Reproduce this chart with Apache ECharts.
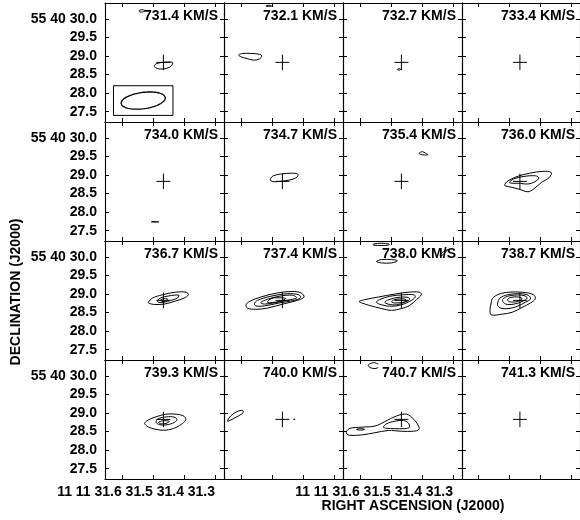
<!DOCTYPE html>
<html>
<head>
<meta charset="utf-8">
<script src="https://cdn.jsdelivr.net/npm/echarts@6/dist/echarts.min.js"></script>
<style>
  html, body { margin: 0; padding: 0; background: #fff; }
  #chart { width: 580px; height: 520px; }
</style>
</head>
<body>
<div id="chart"></div>
<script>
// Channel velocities (km/s), panels read left-to-right, top-to-bottom
const velocities = ['731.4', '732.1', '732.7', '733.4',
                    '734.0', '734.7', '735.4', '736.0',
                    '736.7', '737.4', '738.0', '738.7',
                    '739.3', '740.0', '740.7', '741.3'];

// Map window: RA seconds of 11h11m, Dec arcsec of +55d40m
const raRange = [31.271, 31.654];
const decRange = [27.222, 30.431];
const raTicks = [31.3, 31.4, 31.5, 31.6];
const decTicks = [27.5, 28.0, 28.5, 29.0, 29.5, 30.0];

// Reference position marked with a cross in each channel
const refPos = [31.466, 28.83];
const crossHalf = 0.19;           // arcsec

// Restoring beam (arcsec, degrees) and its frame
const beam = { ra: 31.531, dec: 27.80, major: 1.21, minor: 0.44, pa: 97.6 };
const beamBox = [0.81, 0.40];     // half width, half height (arcsec)

// Contour rings per channel: [east offset, north offset] in arcsec from refPos
const ch731_4 = [
  [[0.25,-0.09],[0.18,-0.03],[0,0],[-0.25,0],[-0.22,-0.09],[-0.09,-0.16],[0.09,-0.18],[0.22,-0.14]],
  [[0.66,1.40],[0.56,1.42],[0.50,1.39],[0.56,1.36],[0.64,1.36]]
];
const ch732_1 = [
  [[1.19,0.20],[1.08,0.24],[0.86,0.24],[0.63,0.22],[0.56,0.17],[0.63,0.09],[0.79,0.06],[0.99,0.11],[1.13,0.15]],
  [[0.45,1.52],[0.37,1.54],[0.29,1.52],[0.37,1.51]]
];
const ch732_7 = [
  [[0.11,-0.19],[0.06,-0.17],[0.02,-0.19],[0.06,-0.21]]
];
const ch733_4 = [];
const ch734_0 = [
  [[0.33,-1.09],[0.22,-1.08],[0.12,-1.09],[0.22,-1.10]]
];
const ch734_7 = [
  [[0.32,0.08],[0.25,0.15],[0.03,0.20],[-0.24,0.22],[-0.41,0.20],[-0.42,0.14],[-0.29,0.06],[-0.02,0.01],[0.21,-0.01],[0.32,0.02]]
];
const ch735_4 = [
  [[-0.48,0.76],[-0.57,0.80],[-0.66,0.76],[-0.72,0.72],[-0.63,0.71],[-0.52,0.73]]
];
const ch736_0 = [
  [[0.41,-0.07],[0.32,0.02],[0.05,0.14],[-0.27,0.22],[-0.63,0.27],[-0.86,0.24],[-0.81,0.11],[-0.59,-0.03],[-0.36,-0.22],[-0.22,-0.28],[0,-0.22],[0.22,-0.16],[0.41,-0.12]],
  [[0.29,-0.03],[0.18,0.06],[-0.09,0.13],[-0.43,0.15],[-0.52,0.09],[-0.41,-0.01],[-0.22,-0.07],[0.05,-0.05],[0.22,-0.05]]
];
const ch736_7 = [
  [[0.41,-0.05],[0.30,0.06],[0.03,0.15],[-0.33,0.22],[-0.62,0.22],[-0.68,0.15],[-0.56,0.06],[-0.29,-0.03],[-0.02,-0.10],[0.25,-0.11],[0.39,-0.08]],
  [[0.16,0],[0.07,0.07],[-0.15,0.12],[-0.42,0.14],[-0.38,0.06],[-0.20,0],[-0.02,-0.05],[0.14,-0.05]],
  [[0.08,0.01],[-0.03,0.05],[-0.11,0.04],[-0.03,-0.03],[0.05,-0.02]]
];
const ch737_4 = [
  [[0.99,-0.12],[0.90,-0.03],[0.59,0.09],[0.14,0.20],[-0.27,0.24],[-0.51,0.20],[-0.59,0.09],[-0.41,0],[-0.05,-0.09],[0.41,-0.21],[0.72,-0.24],[0.95,-0.21]],
  [[0.76,-0.09],[0.68,0],[0.32,0.11],[-0.14,0.18],[-0.45,0.15],[-0.49,0.07],[-0.32,0],[0.09,-0.07],[0.49,-0.15],[0.72,-0.15]],
  [[0.59,-0.06],[0.41,0.03],[0.09,0.11],[-0.27,0.14],[-0.39,0.07],[-0.22,0.02],[0.14,-0.05],[0.49,-0.10]],
  [[0.41,-0.05],[0.30,0.05],[0.06,0.07],[-0.09,0.05],[0.05,-0.02],[0.27,-0.06]]
];
const ch738_0 = [
  [[1.15,-0.03],[0.99,0.02],[0.63,0.09],[0.18,0.17],[-0.18,0.22],[-0.49,0.22],[-0.54,0.15],[-0.41,0.02],[-0.22,-0.14],[0,-0.22],[0.27,-0.27],[0.54,-0.22],[0.86,-0.14],[1.08,-0.07]],
  [[0.68,-0.05],[0.59,0.02],[0.32,0.11],[-0.05,0.15],[-0.34,0.15],[-0.38,0.09],[-0.22,-0.03],[0,-0.12],[0.27,-0.16],[0.54,-0.12]],
  [[0.45,-0.05],[0.34,0.02],[0.09,0.08],[-0.18,0.08],[-0.22,0.02],[-0.09,-0.05],[0.14,-0.12],[0.36,-0.10]],
  [[0.27,-0.04],[0.18,0.02],[-0.05,0.04],[-0.14,0],[-0.05,-0.05],[0.18,-0.07]],
  [[0.68,1.05],[0.54,1.10],[0.27,1.10],[0.11,1.07],[0.27,1.01],[0.54,1.01]],
  [[0.76,1.52],[0.54,1.54],[0.34,1.52],[0.35,1.49],[0.54,1.48],[0.76,1.49]],
  [[-1.05,1.22],[-1.14,1.31],[-1.26,1.37],[-1.19,1.29],[-1.10,1.21]]
];
const ch738_7 = [
  [[0.79,-0.07],[0.75,0.06],[0.57,0.17],[0.30,0.22],[-0.06,0.22],[-0.38,0.15],[-0.42,0.04],[-0.29,-0.07],[-0.06,-0.19],[0.21,-0.32],[0.48,-0.37],[0.79,-0.39],[0.82,-0.25]],
  [[0.61,-0.07],[0.55,0.06],[0.34,0.15],[-0.02,0.18],[-0.24,0.13],[-0.29,0.04],[-0.15,-0.05],[0.07,-0.16],[0.30,-0.22],[0.52,-0.21],[0.61,-0.14]],
  [[0.48,0],[0.39,0.09],[0.16,0.14],[-0.11,0.13],[-0.20,0.06],[-0.06,-0.03],[0.16,-0.10],[0.39,-0.10]],
  [[0.34,0.02],[0.25,0.08],[0.03,0.09],[-0.06,0.04],[0.07,-0.03],[0.28,-0.04]]
];
const ch739_3 = [
  [[0.51,-0.11],[0.42,-0.02],[0.20,0.07],[-0.07,0.14],[-0.34,0.14],[-0.55,0.09],[-0.61,0],[-0.52,-0.11],[-0.34,-0.22],[-0.07,-0.29],[0.20,-0.27],[0.42,-0.20]],
  [[0.20,-0.08],[0.15,0.01],[-0.03,0.06],[-0.25,0.07],[-0.37,0.01],[-0.30,-0.08],[-0.07,-0.15],[0.11,-0.14]],
  [[0.13,-0.08],[0.02,-0.04],[-0.16,-0.05],[-0.07,-0.11],[0.06,-0.12]]
];
const ch740_0 = [
  [[1.49,-0.02],[1.41,0.09],[1.24,0.21],[1.08,0.24],[1.07,0.18],[1.24,0.07],[1.41,-0.02],[1.49,-0.05]],
  [[-0.31,0.01],[-0.33,0.01],[-0.33,-0.01],[-0.31,-0.01]]
];
const ch740_7 = [
  [[1.49,-0.32],[1.40,-0.24],[1.08,-0.21],[0.72,-0.18],[0.45,-0.06],[0.14,0.09],[-0.14,0.14],[-0.34,0],[-0.45,-0.15],[-0.48,-0.27],[-0.32,-0.32],[0,-0.32],[0.36,-0.30],[0.72,-0.36],[1.08,-0.42],[1.40,-0.43],[1.49,-0.39]],
  [[0.49,-0.21],[0.41,-0.12],[0.18,-0.05],[-0.05,-0.03],[-0.18,-0.09],[-0.22,-0.21],[-0.09,-0.25],[0.18,-0.25],[0.41,-0.24]],
  [[1.22,-0.27],[1.11,-0.25],[1.00,-0.27],[1.11,-0.29]]
];
const ch741_3 = [];

// Contour fragments that run off and stay open (per panel index)
const openArcs = {
  14: [[[0.63,1.49],[0.76,1.53],[0.90,1.47],[0.86,1.40],[0.72,1.37],[0.63,1.40]]]
};

const channelContours = [ch731_4, ch732_1, ch732_7, ch733_4,
                         ch734_0, ch734_7, ch735_4, ch736_0,
                         ch736_7, ch737_4, ch738_0, ch738_7,
                         ch739_3, ch740_0, ch740_7, ch741_3];

// ---- layout ----
const PANEL = 119, LEFT0 = 105, TOP0 = 3;
const FONT = '"Liberation Sans", Arial, Helvetica, sans-serif';
const FONT_SIZE = 14;

const decDeg = 55 + 40 / 60 + refPos[1] / 3600;
const secPerArcsec = 1 / (15 * Math.cos(decDeg * Math.PI / 180));
function sky(e, n) { return [refPos[0] + e * secPerArcsec, refPos[1] + n]; }

const grids = [], xAxes = [], yAxes = [], series = [], graphics = [];
const lineStyle = { color: '#000', width: 1.1 };
const tickStyle = { color: '#000', width: 1 };
const labelFont = { color: '#000', fontFamily: FONT, fontWeight: 'bold', fontSize: FONT_SIZE };

velocities.forEach((v, i) => {
  const row = Math.floor(i / 4), col = i % 4;
  const left = LEFT0 + col * PANEL, top = TOP0 + row * PANEL;
  grids.push({ left: left, top: top, width: PANEL, height: PANEL, containLabel: false });

  const showX = row === 3 && (col === 0 || col === 2);
  const showY = col === 0;
  const xBase = {
    gridIndex: i, type: 'value', min: raRange[0], max: raRange[1], inverse: true,
    axisLine: { show: true, onZero: false, lineStyle: lineStyle },
    axisTick: { show: true, inside: true, length: 4, customValues: raTicks, lineStyle: tickStyle },
    splitLine: { show: false }
  };
  xAxes.push(Object.assign({}, xBase, {
    position: 'bottom',
    axisLabel: Object.assign({ show: showX, customValues: raTicks, align: 'right', margin: 6,
      formatter: val => (Math.abs(val - 31.6) < 1e-6 ? '11 11 31.6' : val.toFixed(1)) }, labelFont)
  }));
  xAxes.push(Object.assign({}, xBase, { position: 'top', axisLabel: { show: false } }));

  const yBase = {
    gridIndex: i, type: 'value', min: decRange[0], max: decRange[1],
    axisLine: { show: true, onZero: false, lineStyle: lineStyle },
    axisTick: { show: true, inside: true, length: 4, customValues: decTicks, lineStyle: tickStyle },
    splitLine: { show: false }
  };
  yAxes.push(Object.assign({}, yBase, {
    position: 'left',
    axisLabel: Object.assign({ show: showY, customValues: decTicks, margin: 8,
      formatter: val => (Math.abs(val - 30) < 1e-6 ? '55 40 30.0' : val.toFixed(1)) }, labelFont)
  }));
  yAxes.push(Object.assign({}, yBase, { position: 'right', axisLabel: { show: false } }));

  const rings = channelContours[i];
  const arcs = openArcs[i] || [];
  const shapes = rings.map(r => ({ pts: r, closed: true })).concat(arcs.map(r => ({ pts: r, closed: false })));

  // contour lines
  series.push({
    type: 'custom', coordinateSystem: 'cartesian2d', xAxisIndex: 2 * i, yAxisIndex: 2 * i,
    silent: true, animation: false, encode: { x: 0, y: 1 },
    data: shapes.map((s, k) => [refPos[0], refPos[1], k]),
    renderItem: (params, api) => {
      const s = shapes[params.dataIndex];
      const pts = s.pts.map(p => api.coord(sky(p[0], p[1])));
      return {
        type: s.closed ? 'polygon' : 'polyline',
        shape: { points: pts, smooth: 0.35 },
        style: { fill: 'none', stroke: '#000', lineWidth: 1 }
      };
    }
  });

  // reference cross
  series.push({
    type: 'custom', coordinateSystem: 'cartesian2d', xAxisIndex: 2 * i, yAxisIndex: 2 * i,
    silent: true, animation: false, encode: { x: 0, y: 1 },
    data: [[refPos[0], refPos[1]]],
    renderItem: (params, api) => {
      const l = api.coord(sky(crossHalf, 0)), r = api.coord(sky(-crossHalf, 0));
      const t = api.coord(sky(0, crossHalf * 1.1)), b = api.coord(sky(0, -crossHalf * 1.1));
      const st = { stroke: '#000', lineWidth: 1 };
      return { type: 'group', children: [
        { type: 'line', shape: { x1: l[0], y1: l[1], x2: r[0], y2: r[1] }, style: st },
        { type: 'line', shape: { x1: t[0], y1: t[1], x2: b[0], y2: b[1] }, style: st }
      ] };
    }
  });

  graphics.push({
    type: 'text', x: left + PANEL - 6, y: top + 13, silent: true,
    style: { text: v + ' KM/S', align: 'right', verticalAlign: 'middle',
             font: 'bold ' + FONT_SIZE + 'px ' + FONT, fill: '#000' }
  });
});

// restoring beam with its frame, first channel
series.push({
  type: 'custom', coordinateSystem: 'cartesian2d', xAxisIndex: 0, yAxisIndex: 0,
  silent: true, animation: false, encode: { x: 0, y: 1 },
  data: [[beam.ra, beam.dec]],
  renderItem: (params, api) => {
    const toSec = e => beam.ra + e * secPerArcsec;
    const pa = beam.pa * Math.PI / 180;
    const a = beam.major / 2, b = beam.minor / 2;
    const pts = [];
    for (let k = 0; k < 72; k++) {
      const t = k / 72 * 2 * Math.PI;
      const e = a * Math.cos(t) * Math.sin(pa) + b * Math.sin(t) * Math.cos(pa);
      const n = a * Math.cos(t) * Math.cos(pa) - b * Math.sin(t) * Math.sin(pa);
      pts.push(api.coord([toSec(e), beam.dec + n]));
    }
    const p1 = api.coord([toSec(beamBox[0]), beam.dec + beamBox[1]]);
    const p2 = api.coord([toSec(-beamBox[0]), beam.dec - beamBox[1]]);
    const st = { fill: 'none', stroke: '#000', lineWidth: 1 };
    return { type: 'group', children: [
      { type: 'rect', shape: { x: p1[0], y: p1[1], width: p2[0] - p1[0], height: p2[1] - p1[1] }, style: st },
      { type: 'polygon', shape: { points: pts }, style: { fill: 'none', stroke: '#000', lineWidth: 1.3 } }
    ] };
  }
});

graphics.push({
  type: 'text', x: 413, y: 506, silent: true,
  style: { text: 'RIGHT ASCENSION (J2000)', align: 'center', verticalAlign: 'middle',
           font: 'bold ' + FONT_SIZE + 'px ' + FONT, fill: '#000' }
});
graphics.push({
  type: 'text', x: 16, y: 292, rotation: Math.PI / 2, silent: true,
  style: { text: 'DECLINATION (J2000)', align: 'center', verticalAlign: 'middle',
           font: 'bold ' + FONT_SIZE + 'px ' + FONT, fill: '#000' }
});

const chart = echarts.init(document.getElementById('chart'), null, { renderer: 'canvas' });
chart.setOption({
  backgroundColor: '#fff',
  animation: false,
  grid: grids,
  xAxis: xAxes,
  yAxis: yAxes,
  series: series,
  graphic: graphics
});
</script>
</body>
</html>
